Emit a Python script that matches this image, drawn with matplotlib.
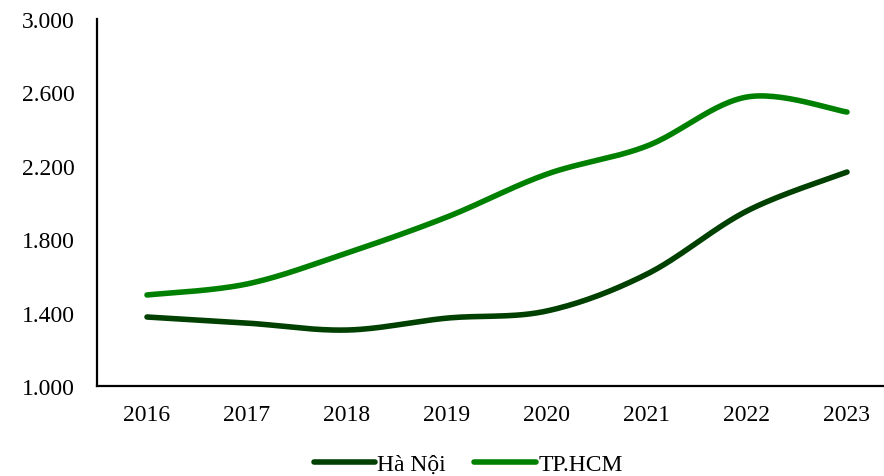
import numpy as np
import matplotlib
matplotlib.use("Agg")
import matplotlib.pyplot as plt

plt.rcParams['font.family'] = ['Liberation Serif', 'DejaVu Serif']

years = ['2016', '2017', '2018', '2019', '2020', '2021', '2022', '2023']
ha_noi = [1376, 1343, 1305, 1370, 1409, 1610, 1954, 2166]
tp_hcm = [1496, 1556, 1725, 1921, 2155, 2308, 2575, 2493]
yticks = [1000, 1400, 1800, 2200, 2600, 3000]


def smooth(y, n=30):
    # Excel-style smoothed line: cubic bezier through the points
    x = np.arange(len(y), dtype=float)
    y = np.asarray(y, dtype=float)
    xs, ys = [], []
    for i in range(len(y) - 1):
        p0 = np.array([x[max(i - 1, 0)], y[max(i - 1, 0)]])
        p1 = np.array([x[i], y[i]])
        p2 = np.array([x[i + 1], y[i + 1]])
        p3 = np.array([x[min(i + 2, len(y) - 1)], y[min(i + 2, len(y) - 1)]])
        c1 = p1 + (p2 - p0) / 6
        c2 = p2 - (p3 - p1) / 6
        t = np.linspace(0, 1, n)[:, None]
        pts = (1 - t) ** 3 * p1 + 3 * (1 - t) ** 2 * t * c1 + 3 * (1 - t) * t ** 2 * c2 + t ** 3 * p2
        xs.extend(pts[:, 0])
        ys.extend(pts[:, 1])
    return xs, ys


fig = plt.figure(figsize=(8.84, 4.77), dpi=100)
ax = fig.add_axes([97 / 884, 90 / 477, 800 / 884, 367 / 477])

xs, ys = smooth(ha_noi)
ax.plot(xs, ys, color='#004000', lw=4, solid_capstyle='round', label='Hà Nội')
xs, ys = smooth(tp_hcm)
ax.plot(xs, ys, color='#008000', lw=4, solid_capstyle='round', label='TP.HCM')

ax.set_xlim(-0.5, len(years) - 0.5)
ax.set_ylim(1000, 3000)
ax.set_xticks(range(len(years)))
ax.set_xticklabels(years)
ax.set_yticks(yticks)
ax.set_yticklabels(['{:,}'.format(v).replace(',', '.') for v in yticks])
ax.tick_params(axis='both', length=0, labelsize=17)
ax.tick_params(axis='y', pad=16)
ax.tick_params(axis='x', pad=13)

for s in ['top', 'right']:
    ax.spines[s].set_visible(False)
for s in ['left', 'bottom']:
    ax.spines[s].set_linewidth(1.6)
    ax.spines[s].set_color('black')

fig.legend(loc='center', bbox_to_anchor=(468 / 884, 1 - 465 / 477), ncol=2,
           frameon=False, fontsize=17, handlelength=2.6, handletextpad=0.1,
           columnspacing=1.2)

fig.savefig('out.png', dpi=100)
